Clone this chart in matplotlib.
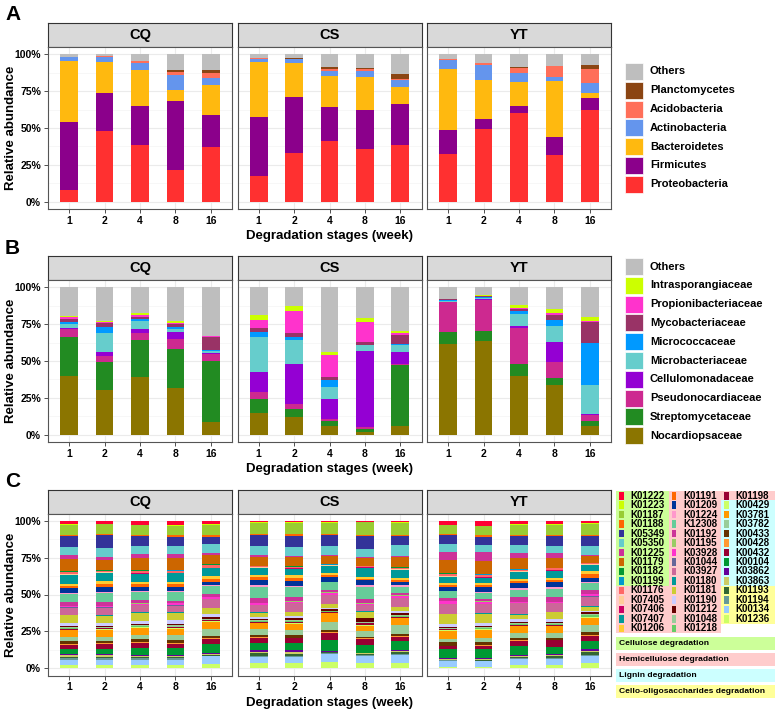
import numpy as np
import matplotlib.pyplot as plt
from matplotlib.patches import Rectangle

plt.rcParams['font.family'] = ['Liberation Sans', 'DejaVu Sans']
plt.rcParams['font.weight'] = 'bold'

W, H = 778, 712

sites = ['CQ', 'CS', 'YT']
weeks = ['1', '2', '4', '8', '16']

# ---- panel A: phyla (stack order bottom -> top)
phyla = ['Proteobacteria', 'Firmicutes', 'Bacteroidetes', 'Actinobacteria',
         'Acidobacteria', 'Planctomycetes', 'Others']
phyla_colors = ['#FF3030', '#8B008B', '#FFB90F', '#6495ED', '#FF6F59', '#8B4513', '#BEBEBE']
phyla_cq = [[8.0, 46.0, 41.5, 2.5, 0.3, 0.2, 1.5],
            [48.0, 26.0, 20.6, 3.8, 0.5, 0.1, 1.0],
            [38.2, 26.8, 24.6, 4.7, 0.9, 0.5, 4.3],
            [21.5, 46.8, 7.5, 9.9, 2.5, 0.9, 10.9],
            [36.9, 21.9, 20.4, 4.7, 3.2, 2.5, 10.4]]
phyla_cs = [[17.2, 40.6, 36.9, 2.0, 0.7, 0.2, 2.4],
            [33.3, 37.8, 23.3, 2.3, 0.3, 0.2, 2.8],
            [41.4, 22.9, 21.1, 3.4, 1.6, 0.9, 8.7],
            [36.0, 26.3, 22.0, 4.7, 0.9, 0.7, 9.4],
            [38.3, 28.1, 11.5, 4.8, 0.9, 3.4, 13.0]]
phyla_yt = [[32.4, 16.1, 41.6, 6.4, 0.4, 0.2, 2.9],
            [49.2, 7.0, 26.5, 10.2, 1.1, 0.2, 5.8],
            [60.2, 5.0, 15.7, 6.3, 3.6, 0.7, 8.5],
            [31.5, 12.2, 38.3, 2.7, 7.5, 0.2, 7.6],
            [62.3, 8.1, 3.2, 6.8, 9.7, 2.8, 7.1]]

# ---- panel B: families (stack order bottom -> top)
families = ['Nocardiopsaceae', 'Streptomycetaceae', 'Pseudonocardiaceae', 'Cellulomonadaceae',
            'Microbacteriaceae', 'Micrococcaceae', 'Mycobacteriaceae', 'Propionibacteriaceae',
            'Intrasporangiaceae', 'Others']
family_colors = ['#8B7500', '#228B22', '#CD2990', '#9400D3', '#66CDCC', '#0099FF',
                 '#993366', '#FF33CC', '#CCFF00', '#BEBEBE']
fam_cq = [[39.6, 26.9, 5.0, 0.9, 2.9, 1.2, 1.8, 1.3, 1.2, 19.2],
          [30.1, 19.4, 3.9, 2.7, 13.1, 4.1, 2.3, 0.9, 0.9, 22.6],
          [39.1, 25.2, 4.9, 2.7, 5.2, 1.4, 1.6, 1.1, 1.2, 17.6],
          [31.7, 26.4, 6.6, 5.2, 1.6, 1.4, 2.0, 0.9, 1.6, 22.6],
          [8.6, 41.4, 4.5, 1.2, 1.1, 0.4, 9.1, 0.4, 0.5, 32.8]]
fam_cs = [[14.7, 9.5, 4.8, 13.5, 24.0, 3.2, 2.5, 5.9, 3.3, 18.6],
          [12.0, 5.4, 3.4, 27.4, 16.3, 2.0, 2.7, 15.0, 2.9, 12.9],
          [6.1, 3.2, 1.3, 13.4, 8.6, 4.5, 2.3, 14.9, 2.0, 43.7],
          [1.8, 2.0, 1.4, 51.6, 3.8, 0.3, 2.0, 13.6, 2.7, 20.8],
          [6.1, 41.0, 0.9, 8.1, 4.8, 0.4, 6.3, 1.2, 1.6, 29.6]]
fam_yt = [[61.5, 8.0, 20.5, 0.2, 0.8, 0.6, 0.2, 0.2, 0.3, 7.7],
          [63.6, 7.0, 21.0, 0.2, 0.7, 1.2, 0.4, 0.2, 0.7, 5.0],
          [39.8, 7.9, 24.9, 1.2, 8.1, 2.0, 1.6, 0.7, 1.8, 12.0],
          [33.9, 4.3, 10.9, 13.8, 10.6, 4.6, 3.1, 1.6, 2.3, 14.9],
          [6.1, 3.4, 3.6, 0.7, 20.1, 28.5, 14.3, 0.4, 2.8, 20.1]]

# ---- panel C: KO genes (legend order = top -> bottom of the stack)
kos = ['K01222', 'K01223', 'K01187', 'K01188', 'K05349', 'K05350', 'K01225', 'K01179',
       'K01182', 'K01199', 'K01176', 'K07405', 'K07406', 'K07407', 'K01206',
       'K01191', 'K01209', 'K01224', 'K12308', 'K01192', 'K01195', 'K03928', 'K01044',
       'K03927', 'K01180', 'K01181', 'K01190', 'K01212', 'K01048', 'K01218',
       'K01198', 'K00429', 'K03781', 'K03782', 'K00433', 'K00428', 'K00432', 'K00104',
       'K03862', 'K03863', 'K01193', 'K01194', 'K00134', 'K01236']
ko_colors = ['#FF0033', '#CCFF00', '#99CC33', '#FF6600', '#333399', '#66CCCC', '#CC3399', '#CC6600',
             '#009933', '#0099CC', '#FF6666', '#FFCC99', '#CC0066', '#009999', '#FFCC33',
             '#FF6600', '#003399', '#FF99CC', '#66CC99', '#CC3399', '#99CC66', '#FF33CC', '#666699',
             '#CC6699', '#009999', '#CCCC33', '#CCCCFF', '#660000', '#99CC99', '#66CC66',
             '#990033', '#CCFF66', '#FF9900', '#99CC99', '#663300', '#FF9933', '#990033', '#009933',
             '#660099', '#CCCC66', '#336633', '#669999', '#99CCFF', '#CCFF66']
ko_groups = ['Cellulose degradation', 'Hemicellulose degradation', 'Lignin degradation',
             'Cello-oligosaccharides degradation']
group_colors = ['#CCFF99', '#FFCCCC', '#CCFFFF', '#FFFF99']
ko_group_of = [0] * 10 + [1] * 21 + [2] * 9 + [3] * 4

ko_cq = [[2.3, 0.5, 6.3, 1.1, 7.1, 5.5, 2.8, 7.8, 0.4, 0.3, 1.3, 0.3, 0.3, 5.8, 1.3,
          1.6, 3.2, 0.8, 5.4, 2.2, 0.4, 0.6, 0.4, 4.5, 0.3, 5.2, 2.2, 0.5, 0.6, 0.5,
          0.5, 0.4, 4.5, 2.6, 2.2, 0.5, 2.4, 3.9, 0.7, 0.9, 1.1, 0.9, 3.6, 1.9],
         [1.8, 0.5, 6.4, 0.8, 8.6, 5.4, 2.2, 6.6, 0.4, 0.3, 1.0, 0.3, 0.3, 5.3, 1.6,
          1.8, 3.5, 0.8, 5.9, 2.5, 0.4, 0.5, 0.4, 4.8, 0.3, 5.0, 1.7, 0.6, 0.6, 0.5,
          0.6, 0.4, 5.0, 2.2, 1.6, 0.4, 3.6, 3.3, 0.7, 0.9, 1.1, 0.9, 3.6, 1.9],
         [2.5, 0.5, 6.5, 1.0, 6.8, 5.3, 2.9, 8.2, 0.4, 0.3, 1.2, 0.3, 0.3, 5.5, 1.5,
          1.6, 3.0, 0.8, 5.4, 2.2, 0.4, 0.6, 0.5, 4.8, 0.3, 5.4, 2.2, 0.6, 0.6, 0.5,
          0.5, 0.4, 5.0, 2.4, 2.6, 0.5, 3.5, 4.4, 0.7, 0.8, 1.0, 0.9, 3.8, 1.9],
         [2.7, 0.5, 6.6, 1.3, 5.8, 5.5, 2.9, 7.6, 0.4, 0.3, 1.3, 0.3, 0.3, 5.5, 1.5,
          2.0, 2.7, 0.6, 6.0, 1.5, 0.3, 1.3, 0.3, 4.4, 0.3, 5.1, 2.9, 0.6, 0.8, 0.6,
          0.6, 0.4, 4.4, 2.9, 2.2, 0.5, 2.9, 4.4, 0.7, 0.9, 1.0, 0.9, 3.8, 1.9],
         [2.2, 0.5, 7.3, 1.1, 5.1, 6.0, 1.3, 6.7, 0.4, 0.3, 1.5, 0.3, 0.3, 5.3, 2.0,
          2.0, 2.2, 0.6, 5.6, 1.8, 0.3, 1.1, 0.3, 6.0, 0.3, 4.0, 2.2, 1.1, 0.6, 0.5,
          0.5, 0.4, 4.9, 4.9, 1.8, 0.5, 3.3, 6.2, 0.7, 0.8, 0.5, 0.5, 5.5, 2.7]]
ko_cs = [[1.1, 0.4, 7.3, 0.9, 8.0, 6.0, 1.1, 6.2, 0.3, 0.3, 0.6, 0.3, 0.3, 4.7, 1.5,
          2.2, 3.5, 1.3, 7.3, 3.3, 0.3, 1.1, 0.3, 5.0, 0.3, 3.1, 1.1, 1.2, 0.6, 0.5,
          0.6, 0.3, 4.0, 3.8, 1.6, 0.4, 3.5, 4.9, 1.3, 1.3, 1.5, 0.7, 4.7, 3.3],
         [1.1, 0.4, 8.0, 0.9, 8.0, 6.0, 1.1, 6.2, 0.3, 0.3, 0.6, 0.3, 0.3, 4.7, 1.8,
          2.4, 2.9, 1.1, 7.3, 2.7, 0.3, 0.6, 0.3, 6.0, 0.3, 2.9, 1.3, 1.5, 0.8, 0.6,
          0.7, 0.4, 4.4, 3.3, 2.0, 0.4, 3.5, 4.9, 1.2, 1.2, 1.5, 0.7, 4.7, 3.3],
         [1.1, 0.4, 8.2, 0.7, 7.8, 6.7, 0.7, 5.5, 0.3, 0.3, 0.6, 0.3, 0.3, 5.1, 1.5,
          1.4, 3.1, 0.5, 5.8, 1.6, 0.3, 1.5, 0.3, 6.2, 0.3, 2.9, 0.7, 1.1, 0.5, 0.5,
          0.5, 0.4, 6.0, 6.0, 1.8, 0.4, 4.9, 8.0, 0.7, 0.5, 0.5, 0.5, 6.0, 4.4],
         [0.7, 0.3, 9.3, 0.7, 8.9, 6.0, 0.7, 5.3, 0.3, 0.3, 0.3, 0.3, 0.3, 6.7, 1.3,
          0.5, 3.6, 1.5, 8.9, 2.9, 0.3, 0.5, 0.3, 4.4, 0.3, 4.4, 0.5, 2.2, 0.7, 0.7,
          1.3, 0.3, 4.0, 3.8, 1.1, 0.3, 4.4, 5.6, 0.4, 0.3, 1.1, 0.3, 5.1, 3.8],
         [1.1, 0.4, 8.2, 1.0, 6.2, 7.5, 0.7, 7.3, 0.3, 0.3, 0.6, 0.3, 0.3, 5.6, 1.5,
          1.4, 2.2, 0.8, 4.4, 1.6, 0.3, 1.3, 0.3, 6.0, 0.3, 2.9, 1.6, 1.3, 0.5, 0.5,
          0.5, 0.4, 5.1, 6.0, 1.6, 0.4, 2.7, 6.7, 0.7, 0.6, 1.0, 0.6, 5.6, 3.8]]
ko_yt = [[2.7, 0.4, 6.2, 0.8, 5.6, 5.8, 5.3, 9.6, 0.3, 0.3, 1.4, 0.3, 0.3, 4.4, 1.1,
          1.1, 2.9, 0.4, 4.9, 1.8, 0.3, 1.5, 0.3, 6.7, 0.3, 6.7, 2.2, 0.5, 0.6, 0.6,
          0.4, 0.4, 6.0, 2.2, 2.2, 0.4, 2.2, 5.8, 0.7, 0.6, 0.6, 0.5, 3.8, 1.0],
         [3.3, 0.4, 6.4, 0.8, 5.8, 5.3, 5.6, 9.3, 0.3, 0.3, 1.4, 0.3, 0.3, 4.0, 1.3,
          1.4, 3.3, 0.4, 4.4, 1.8, 0.3, 1.5, 0.3, 6.2, 0.3, 6.7, 1.8, 0.6, 0.6, 0.6,
          0.6, 0.4, 5.6, 2.9, 2.2, 0.4, 2.2, 6.0, 0.7, 0.6, 0.6, 0.4, 4.0, 0.9],
         [2.2, 0.4, 7.3, 0.8, 6.2, 5.3, 3.6, 7.1, 0.3, 0.3, 1.1, 0.3, 0.3, 4.4, 1.6,
          1.6, 3.6, 1.1, 4.9, 3.3, 0.3, 0.4, 0.3, 7.3, 0.3, 3.3, 1.6, 0.8, 0.8, 0.7,
          0.6, 0.4, 4.4, 3.3, 1.8, 0.4, 3.8, 5.6, 0.7, 0.8, 1.0, 0.8, 3.8, 2.2],
         [2.2, 0.4, 7.3, 0.7, 7.1, 5.1, 3.3, 6.7, 0.3, 0.3, 0.9, 0.3, 0.3, 5.1, 1.4,
          1.5, 3.8, 1.1, 5.6, 3.3, 0.3, 0.4, 0.3, 6.2, 0.3, 4.9, 1.8, 0.8, 0.7, 0.6,
          0.6, 0.3, 5.1, 2.9, 1.6, 0.4, 4.4, 5.1, 0.7, 0.8, 1.0, 0.8, 4.4, 2.2],
         [1.8, 0.4, 7.5, 0.7, 7.3, 6.0, 1.1, 4.4, 0.3, 0.3, 0.6, 0.3, 0.3, 4.4, 2.0,
          2.4, 2.9, 0.8, 4.9, 2.7, 0.3, 1.3, 0.3, 6.7, 0.3, 2.9, 1.1, 1.0, 1.0, 1.0,
          0.5, 0.3, 5.1, 4.9, 2.2, 0.4, 3.3, 5.6, 1.8, 0.8, 1.7, 1.2, 4.4, 3.8]]

fig = plt.figure(figsize=(W / 100, H / 100), dpi=100)


def px_axes(x0, y0, x1, y1):
    return fig.add_axes([x0 / W, 1 - y1 / H, (x1 - x0) / W, (y1 - y0) / H])


panel_x = [(48, 232), (237.5, 421.5), (427, 611)]
BORDER = '#555555'


def draw_row(top, data, colors, letter):
    # top = pixel y of strip top
    strip_h, plot_h = 24, 162
    for k, site in enumerate(sites):
        x0, x1 = panel_x[k]
        st = px_axes(x0, top, x1, top + strip_h)
        st.set_facecolor('#D9D9D9')
        st.set_xticks([])
        st.set_yticks([])
        for s in st.spines.values():
            s.set_color('#333333')
            s.set_linewidth(0.8)
        st.text(0.5, 0.48, site, ha='center', va='center', fontsize=10.5,
                fontweight='bold', transform=st.transAxes)

        ax = px_axes(x0, top + strip_h, x1, top + strip_h + plot_h)
        vals = np.array(data[k], dtype=float)
        vals = vals / vals.sum(axis=1, keepdims=True)
        x = np.arange(len(weeks))
        bottom = np.zeros(len(weeks))
        for j in range(vals.shape[1]):
            ax.bar(x, vals[:, j], 0.5, bottom=bottom, color=colors[j], linewidth=0, zorder=3)
            bottom += vals[:, j]
        ax.set_xlim(-0.6, 4.6)
        ax.set_ylim(-0.05, 1.05)
        ax.set_yticks([0, 0.25, 0.5, 0.75, 1.0])
        ax.set_yticks([0.125, 0.375, 0.625, 0.875], minor=True)
        ax.grid(True, which='major', color='#EBEBEB', linewidth=0.8, zorder=0)
        ax.grid(True, which='minor', axis='y', color='#F4F4F4', linewidth=0.5, zorder=0)
        ax.set_axisbelow(True)
        ax.set_xticks(x)
        ax.set_xticklabels(weeks, fontsize=7.5, fontweight='bold')
        ax.tick_params(axis='both', which='major', length=3, width=0.6, color='#333333', pad=2)
        ax.tick_params(axis='y', which='minor', length=0)
        if k == 0:
            ax.set_yticklabels(['0%', '25%', '50%', '75%', '100%'], fontsize=7.5, fontweight='bold')
        else:
            ax.tick_params(axis='y', which='major', length=0, labelleft=False)
        if k == 1:
            ax.set_xlabel('Degradation stages (week)', fontsize=9.5, fontweight='bold', labelpad=3)
        for s in ax.spines.values():
            s.set_color(BORDER)
            s.set_linewidth(0.8)
    fig.text(11.5 / W, 1 - (top + strip_h + plot_h / 2) / H, 'Relative abundance',
             rotation=90, ha='center', va='center', fontsize=9.5, fontweight='bold')
    fig.text(5 / W, 1 - (top - 8) / H, letter, fontsize=15, fontweight='bold', va='center')


def legend_ab(top, names, colors):
    # names listed top -> bottom
    for i, (n, c) in enumerate(zip(names, colors)):
        yc = top + i * 18.8
        fig.patches.append(Rectangle((625 / W, 1 - (yc + 8.5) / H), 18 / W, 17 / H,
                                     transform=fig.transFigure, facecolor=c, edgecolor='white',
                                     linewidth=0.5))
        fig.text(650 / W, 1 - yc / H, n, fontsize=8, fontweight='bold', va='center')


draw_row(23, [phyla_cq, phyla_cs, phyla_yt], phyla_colors, 'A')
legend_ab(71.5, phyla[::-1], phyla_colors[::-1])

draw_row(256, [fam_cq, fam_cs, fam_yt], family_colors, 'B')
legend_ab(266.5, families[::-1], family_colors[::-1])

# panel C is stacked with the first KO on top
row_c = [[r[::-1] for r in d] for d in (ko_cq, ko_cs, ko_yt)]
draw_row(489.5, row_c, ko_colors[::-1], 'C')

# KO legend in three columns on coloured group backgrounds
col_x = [616, 668.5, 721]
col_w = [52.5, 52.5, 54]
row_h = 9.47
leg_top = 491
for i, (ko, c) in enumerate(zip(kos, ko_colors)):
    col, row = (i // 15, i % 15)
    x0 = col_x[col]
    y0 = leg_top + row * row_h
    fig.patches.append(Rectangle((x0 / W, 1 - (y0 + row_h) / H), col_w[col] / W, row_h / H,
                                 transform=fig.transFigure, facecolor=group_colors[ko_group_of[i]],
                                 edgecolor='none'))
    fig.patches.append(Rectangle(((x0 + 3) / W, 1 - (y0 + 8.5) / H), 4.5 / W, 7.5 / H,
                                 transform=fig.transFigure, facecolor=c, edgecolor='none'))
    fig.text((x0 + 14.5) / W, 1 - (y0 + row_h / 2) / H, ko, fontsize=7, fontweight='bold',
             va='center')

for g, (name, c) in enumerate(zip(ko_groups, group_colors)):
    y0 = 637 + g * 16
    fig.patches.append(Rectangle((616 / W, 1 - (y0 + 13) / H), 159 / W, 13 / H,
                                 transform=fig.transFigure, facecolor=c, edgecolor='none'))
    fig.text(619 / W, 1 - (y0 + 6.5) / H, name, fontsize=6.1, fontweight='bold', va='center')

fig.savefig('out.png', dpi=100)
